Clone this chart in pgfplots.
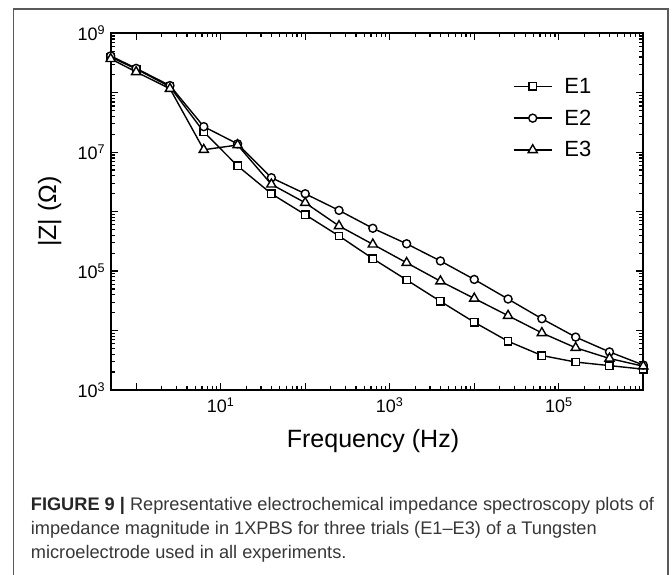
\documentclass[border=0pt]{standalone}
\usepackage{pgfplots}
\pgfplotsset{compat=1.18}
\usepackage{fontspec}
\setmainfont{Liberation Sans}
\definecolor{framegray}{RGB}{90,90,90}
\definecolor{captext}{RGB}{55,55,55}
\pgfplotstableread{
f        E1       E2       E3
0.5      3.98e8   4.17e8   3.72e8
1        2.51e8   2.57e8   2.24e8
2.512    1.26e8   1.32e8   1.17e8
6.31     2.19e7   2.69e7   1.10e7
15.85    5.89e6   1.38e7   1.32e7
39.81    2.00e6   3.72e6   2.88e6
100      8.90e5   2.00e6   1.41e6
251.2    3.90e5   1.05e6   5.75e5
631      1.62e5   5.25e5   2.82e5
1585     7.10e4   2.88e5   1.38e5
3981     3.10e4   1.48e5   6.76e4
10000    1.38e4   7.24e4   3.47e4
25119    6.60e3   3.39e4   1.78e4
63096    3.80e3   1.58e4   9.12e3
158489   2.95e3   7.76e3   5.13e3
398107   2.57e3   4.37e3   3.39e3
1000000  2.24e3   2.63e3   2.51e3
}\imp
\begin{document}
\begin{tikzpicture}[x=1pt,y=1pt]
\useasboundingbox (0,0) rectangle (672,575);
\draw[framegray, line width=1.4pt] (13.3,-3) -- (13.3,566) -- (668,566) -- (668,-3);
\begin{axis}[
  at={(110.7pt,185pt)}, anchor=south west,
  scale only axis, width=532.6pt, height=356.7pt,
  xmode=log, ymode=log,
  xmin=0.5, xmax=1e6, ymin=1e3, ymax=1e9,
  axis line style={line width=1.8pt},
  tick style={line width=1.2pt, black},
  major tick length=7pt, minor tick length=4pt,
  xtick={1,10,100,1000,10000,100000,1000000},
  xticklabels={,10\textsuperscript{1},,10\textsuperscript{3},,10\textsuperscript{5},},
  ytick={1e3,1e4,1e5,1e6,1e7,1e8,1e9},
  yticklabels={10\textsuperscript{3},,10\textsuperscript{5},,10\textsuperscript{7},,10\textsuperscript{9}},
  tick label style={font=\fontsize{18}{18}\selectfont},
  xticklabel style={yshift=-4pt},
  yticklabel style={xshift=-2pt},
  xlabel={Frequency (Hz)},
  ylabel={|Z| (Ω)},
  label style={font=\fontsize{25}{25}\selectfont},
  xlabel style={at={(axis description cs:0.5,0)}, anchor=base, yshift=-58pt, xshift=-4pt},
  ylabel style={at={(axis description cs:0,0.5)}, anchor=center, yshift=61pt},
  legend image code/.code={
    \draw[mark repeat=2,mark phase=2,#1] plot coordinates {(0pt,0pt) (19pt,0pt) (38pt,0pt)};
    \path (50pt,0pt);
  },
  legend style={draw=none, fill=none, inner sep=0pt, anchor=north west,
    at={(axis description cs:0.755,0.875)},
    font=\fontsize{22}{22}\selectfont, row sep=15pt,
    nodes={inner sep=0pt}},
  legend cell align=left,
  every axis plot/.append style={black, line width=1.4pt},
]
\addplot[mark=square*, mark size=3.7pt, mark options={fill=white, solid}] table[x=f,y=E1] {\imp};
\addplot[mark=*, mark size=4pt, mark options={fill=white, solid}] table[x=f,y=E2] {\imp};
\addplot[mark=triangle*, mark size=5.3pt, mark options={fill=white, solid}] table[x=f,y=E3] {\imp};
\legend{E1,E2,E3}
\end{axis}
\node[anchor=base west, inner sep=0pt, font=\fontsize{18.2}{18.2}\selectfont, text=captext] at (30.7,64) {\textbf{\color{black!85}FIGURE 9 |} Representative electrochemical impedance spectroscopy plots of};
\node[anchor=base west, inner sep=0pt, font=\fontsize{18.2}{18.2}\selectfont, text=captext] at (30.7,40) {impedance magnitude in 1XPBS for three trials (E1–E3) of a Tungsten};
\node[anchor=base west, inner sep=0pt, font=\fontsize{18.2}{18.2}\selectfont, text=captext] at (30.7,16) {microelectrode used in all experiments.};
\end{tikzpicture}
\end{document}
